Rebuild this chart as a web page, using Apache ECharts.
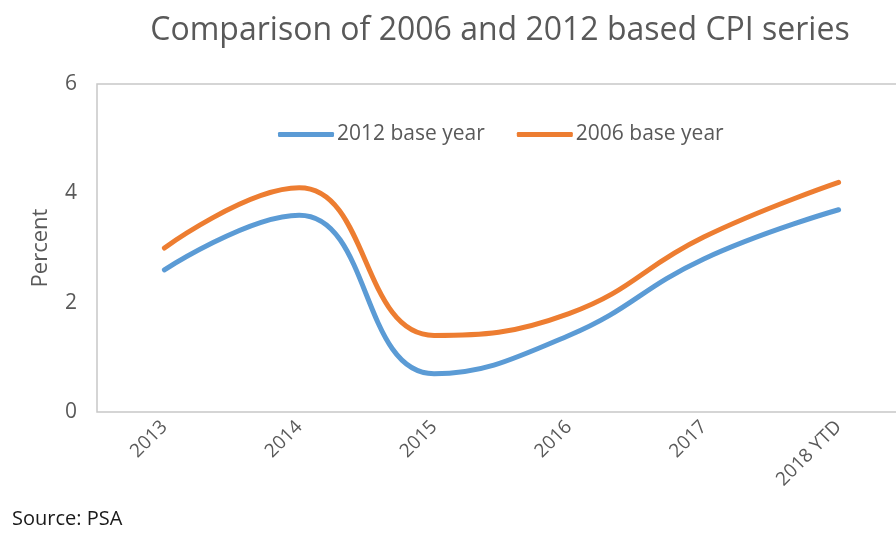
<!DOCTYPE html>
<html>
<head>
<meta charset="utf-8">
<script src="https://cdn.jsdelivr.net/npm/echarts@6/dist/echarts.min.js"></script>
<style>
  html, body { margin: 0; padding: 0; background: #fff; }
  #chart { width: 896px; height: 533px; }
</style>
</head>
<body>
<div id="chart"></div>
<script>
// data
const years = ['2013', '2014', '2015', '2016', '2017', '2018 YTD'];
const base2012 = [2.6, 3.6, 0.7, 1.4, 2.8, 3.7];
const base2006 = [3.0, 4.1, 1.4, 1.8, 3.2, 4.2];
const yTicks = [0, 2, 4, 6];

const font = 'Open Sans';
const grey = '#595959';

const mychart = echarts.init(document.getElementById('chart'));
const option = {
  animation: false,
  title: {
    text: 'Comparison of 2006 and 2012 based CPI series',
    left: 495,
    top: 10,
    textAlign: 'center',
    textStyle: { fontFamily: font, fontSize: 32, fontWeight: 'normal', color: grey }
  },
  legend: {
    data: ['2012 base year', '2006 base year'],
    left: 273,
    top: 119,
    itemWidth: 56,
    itemHeight: 5,
    itemGap: 32,
    icon: 'roundRect',
    textStyle: { fontFamily: font, fontSize: 21, color: grey, padding: [0, 0, 0, -2] }
  },
  grid: {
    left: 97,
    top: 84,
    width: 809,
    height: 328,
    outerBoundsMode: 'none',
    show: true,
    borderColor: '#c8c8c8',
    borderWidth: 1.5
  },
  xAxis: {
    type: 'category',
    data: years,
    boundaryGap: true,
    axisLine: { show: false },
    axisTick: { show: false },
    axisLabel: { rotate: 45, margin: 12, fontFamily: font, fontSize: 19, color: grey }
  },
  yAxis: {
    type: 'value',
    min: yTicks[0],
    max: yTicks[yTicks.length - 1],
    interval: 2,
    name: 'Percent',
    nameLocation: 'middle',
    nameGap: 45,
    nameTextStyle: { fontFamily: font, fontSize: 22, color: grey },
    splitLine: { show: false },
    axisLine: { show: false },
    axisTick: { show: false },
    axisLabel: { margin: 20, fontFamily: font, fontSize: 21, color: grey }
  },
  graphic: [{
    type: 'text',
    left: 12,
    top: 509,
    style: { text: 'Source: PSA', fontFamily: font, fontSize: 20, fill: '#1a1a1a' }
  }],
  series: [
    {
      name: '2012 base year',
      type: 'line',
      data: base2012,
      smooth: 0.45,
      showSymbol: false,
      color: '#5B9BD5',
      lineStyle: { width: 5, cap: 'round' }
    },
    {
      name: '2006 base year',
      type: 'line',
      data: base2006,
      smooth: 0.45,
      showSymbol: false,
      color: '#ED7D31',
      lineStyle: { width: 5, cap: 'round' }
    }
  ]
};
mychart.setOption(option);
</script>
</body>
</html>
